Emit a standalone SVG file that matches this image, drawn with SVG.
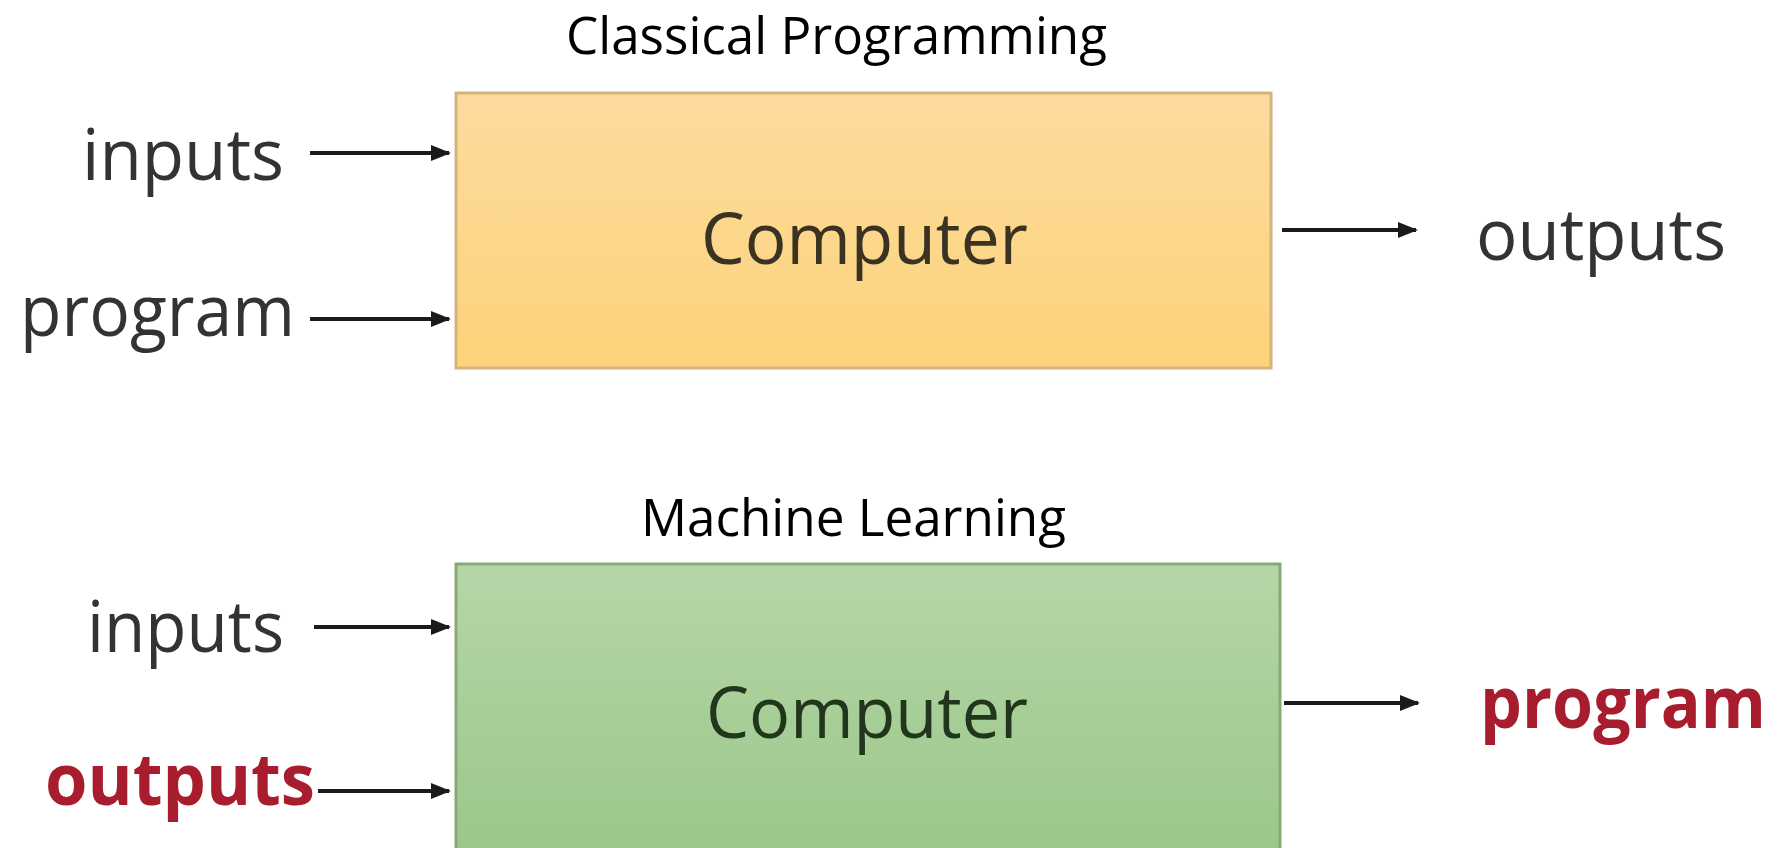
<svg xmlns="http://www.w3.org/2000/svg" width="1781" height="848" viewBox="0 0 1781 848">
<style>
.title{font-family:"Open Sans","Noto Sans",sans-serif;font-size:51px;fill:#000}
.lbl{font-family:"Open Sans","Noto Sans",sans-serif;font-size:72px;fill:#333}
.red{font-family:"Open Sans","Noto Sans",sans-serif;font-size:72px;font-weight:bold;fill:#a81d2d}
.comp{font-family:"Open Sans","Noto Sans",sans-serif;font-size:72px}
.conn{stroke:#1a1a1a;stroke-width:4;fill:none;marker-end:url(#ah)}
</style>
<defs>
<linearGradient id="gOr" x1="0" y1="0" x2="0" y2="1">
<stop offset="0" stop-color="#fddb9e"/>
<stop offset="1" stop-color="#fcd37a"/>
</linearGradient>
<linearGradient id="gGr" x1="0" y1="0" x2="0" y2="1">
<stop offset="0" stop-color="#b6d6a8"/>
<stop offset="1" stop-color="#9bc789"/>
</linearGradient>
<marker id="ah" markerWidth="5" markerHeight="4" refX="4.5" refY="2" orient="auto" markerUnits="strokeWidth">
<path d="M0,0 L5,2 L0,4 Z" fill="#1a1a1a"/>
</marker>
</defs>
<rect width="1781" height="848" fill="#ffffff"/>
<g id="title-classical">
<text class="title" x="566" y="54" textLength="541" lengthAdjust="spacingAndGlyphs">Classical Programming</text>
</g>
<g id="title-ml">
<text class="title" x="641" y="536" textLength="425" lengthAdjust="spacingAndGlyphs">Machine Learning</text>
</g>
<g id="computer-classical">
<rect x="456" y="93" width="815" height="275" fill="url(#gOr)" stroke="#d4b47e" stroke-width="3"/>
<text class="comp" x="701" y="264" fill="#3a3322" textLength="327" lengthAdjust="spacingAndGlyphs">Computer</text>
</g>
<g id="computer-ml">
<rect x="456" y="564" width="824" height="290" fill="url(#gGr)" stroke="#88aa76" stroke-width="3"/>
<text class="comp" x="706" y="738" fill="#22361e" textLength="322" lengthAdjust="spacingAndGlyphs">Computer</text>
</g>
<g id="cp-inputs"><text class="lbl" x="82" y="180" textLength="202" lengthAdjust="spacingAndGlyphs">inputs</text></g>
<g id="cp-program"><text class="lbl" x="20" y="336" textLength="275" lengthAdjust="spacingAndGlyphs">program</text></g>
<g id="cp-outputs"><text class="lbl" x="1476" y="260" textLength="250" lengthAdjust="spacingAndGlyphs">outputs</text></g>
<g id="ml-inputs"><text class="lbl" x="87" y="652" textLength="197" lengthAdjust="spacingAndGlyphs">inputs</text></g>
<g id="ml-outputs"><text class="red" x="45" y="805" textLength="270" lengthAdjust="spacingAndGlyphs">outputs</text></g>
<g id="ml-program"><text class="red" x="1480" y="728" textLength="286" lengthAdjust="spacingAndGlyphs">program</text></g>
<g id="connectors">
<line class="conn" x1="310" y1="153" x2="449" y2="153"/>
<line class="conn" x1="310" y1="319" x2="449" y2="319"/>
<line class="conn" x1="1282" y1="230" x2="1416" y2="230"/>
<line class="conn" x1="314" y1="627" x2="449" y2="627"/>
<line class="conn" x1="318" y1="791" x2="449" y2="791"/>
<line class="conn" x1="1284" y1="703" x2="1418" y2="703"/>
</g>
</svg>
